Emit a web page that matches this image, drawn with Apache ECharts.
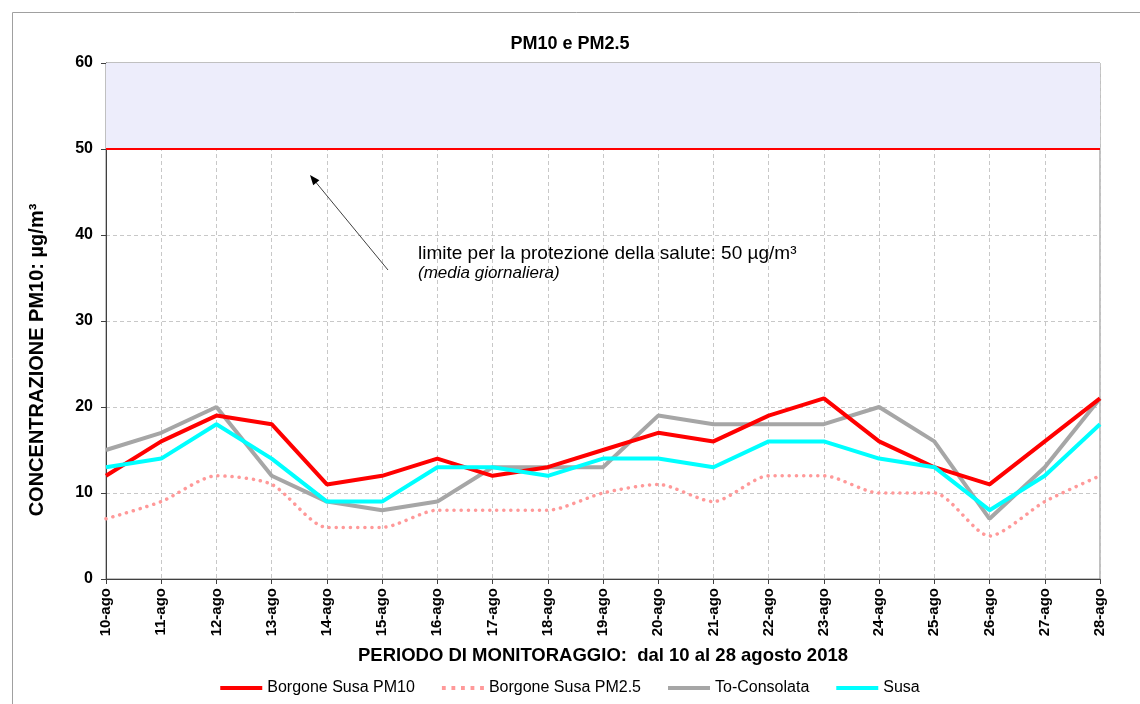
<!DOCTYPE html>
<html><head><meta charset="utf-8">
<script src="https://cdn.jsdelivr.net/npm/echarts@6/dist/echarts.min.js"></script>
<style>html,body{margin:0;padding:0;background:#fff}#c{width:1140px;height:704px}</style>
</head><body><div id="c"></div>
<script>
var categories = ['10-ago','11-ago','12-ago','13-ago','14-ago','15-ago','16-ago','17-ago','18-ago','19-ago','20-ago','21-ago','22-ago','23-ago','24-ago','25-ago','26-ago','27-ago','28-ago'];
var borgonePM10 = [12,16,19,18,11,12,14,12,13,15,17,16,19,21,16,13,11,16,21];
var borgonePM25 = [7,9,12,11,6,6,8,8,8,10,11,9,12,12,10,10,5,9,12];
var toConsolata = [15,17,20,12,9,8,9,13,13,13,19,18,18,18,20,16,7,13,21];
var susa = [13,14,18,14,9,9,13,13,12,14,14,13,16,16,14,13,8,12,18];
var limitValue = 50;
var yMax = 60;
var limitSeries = categories.map(function(){return limitValue;});

var F = 'Liberation Sans, Arial, sans-serif';
var solidIcon = 'path://M0,0H44V4H0Z';
var dotIcon = 'path://M0,0h4v4h-4z M10,0h4v4h-4z M20,0h4v4h-4z M30,0h4v4h-4z M40,0h4v4h-4z';
var chart = echarts.init(document.getElementById('c'));
chart.setOption({
  animation:false,
  backgroundColor:'#fff',
  title:{text:'PM10 e PM2.5',left:'center',top:30,textStyle:{fontFamily:F,fontSize:18,fontWeight:'bold',color:'#000'}},
  grid:{left:106,right:40,top:63,bottom:125,show:true,borderColor:'#808080',borderWidth:1},
  legend:{bottom:3,left:'center',itemWidth:42,itemHeight:4,itemGap:27,
    textStyle:{fontFamily:F,fontSize:16,color:'#000'},
    data:[{name:'Borgone Susa PM10',icon:solidIcon},{name:'Borgone Susa PM2.5',icon:dotIcon},
          {name:'To-Consolata',icon:solidIcon},{name:'Susa',icon:solidIcon}]},
  xAxis:{type:'category',data:categories,boundaryGap:false,
    name:'PERIODO DI MONITORAGGIO:  dal 10 al 28 agosto 2018',nameLocation:'middle',nameGap:67,
    nameTextStyle:{fontFamily:F,fontSize:18.5,fontWeight:'bold',color:'#000'},
    axisLine:{lineStyle:{color:'#404040'}},axisTick:{show:true,length:5,lineStyle:{color:'#404040'}},
    axisLabel:{rotate:90,fontFamily:F,fontSize:15,fontWeight:'bold',color:'#000',margin:9},
    splitLine:{show:true,lineStyle:{color:'#c8c8c8',type:[4,3]}}},
  yAxis:{type:'value',min:0,max:yMax,interval:10,
    axisLine:{show:true,lineStyle:{color:'#404040'}},axisTick:{show:true,length:5,lineStyle:{color:'#404040'}},
    axisLabel:{fontFamily:F,fontSize:16,fontWeight:'bold',color:'#000',margin:13},
    splitLine:{show:true,lineStyle:{color:'#c8c8c8',type:[4,3]}}},
  graphic:[
    {type:'rect',shape:{x:12.5,y:12.5,width:1140,height:700},style:{fill:'none',stroke:'#a0a0a0',lineWidth:1},z:0,silent:true},
    {type:'text',x:37,y:360,rotation:Math.PI/2,
      style:{text:'CONCENTRAZIONE PM10: µg/m³',font:'bold 20px '+F,fill:'#000',textAlign:'center',textVerticalAlign:'middle'},z:100},
    {type:'polyline',shape:{points:[[388,270],[314,180]]},style:{stroke:'#404040',lineWidth:1},z:100},
    {type:'polygon',shape:{points:[[310,175],[319.4,180.2],[313.2,185.2]]},style:{fill:'#000'},z:100},
    {type:'text',left:418,top:244,style:{text:'limite per la protezione della salute: 50 µg/m³',font:'19px '+F,fill:'#000'},z:100},
    {type:'text',left:418,top:265,style:{text:'(media giornaliera)',font:'italic 17px '+F,fill:'#000'},z:100}
  ],
  series:[
    {name:'limit',type:'line',data:limitSeries,symbol:'none',silent:true,z:1,
      lineStyle:{color:'#ff0000',width:2},
      markArea:{silent:true,itemStyle:{color:'#ededfb'},data:[[{yAxis:limitValue},{yAxis:yMax}]]}},
    {name:'Borgone Susa PM2.5',type:'line',data:borgonePM25,symbol:'none',smooth:0.25,z:3,
      itemStyle:{color:'#ff9999'},lineStyle:{color:'#ff9999',width:3.5,type:[0.1,7],cap:'round'}},
    {name:'To-Consolata',type:'line',data:toConsolata,symbol:'none',z:4,
      itemStyle:{color:'#a6a6a6'},lineStyle:{color:'#a6a6a6',width:4}},
    {name:'Susa',type:'line',data:susa,symbol:'none',z:5,
      itemStyle:{color:'#00ffff'},lineStyle:{color:'#00ffff',width:4}},
    {name:'Borgone Susa PM10',type:'line',data:borgonePM10,symbol:'none',z:4,
      itemStyle:{color:'#ff0000'},lineStyle:{color:'#ff0000',width:4}}
  ]
});
</script></body></html>
